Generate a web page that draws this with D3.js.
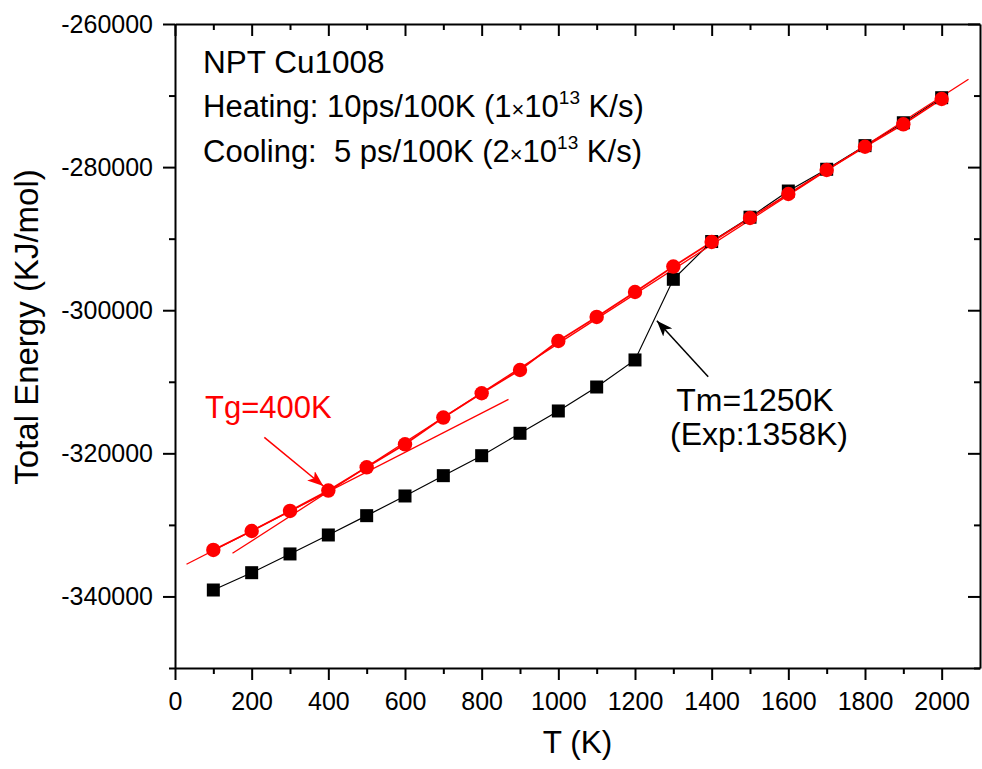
<!DOCTYPE html>
<html>
<head>
<meta charset="utf-8">
<script src="https://cdn.jsdelivr.net/npm/d3@7"></script>
<style>
  html, body { margin: 0; padding: 0; background: #fff; }
  svg { display: block; font-family: "Liberation Sans", Arial, sans-serif; }
</style>
</head>
<body>
<svg id="chart" width="982" height="769"></svg>
<script>
// ---- data ----
const temps = [100,200,300,400,500,600,700,800,900,1000,1100,1200,1300,1400,1500,1600,1700,1800,1900,2000];
const heatingE = [-339100,-336680,-334060,-331410,-328710,-325960,-323120,-320330,-317200,-314080,-310730,-306950,-295680,-290400,-287000,-283340,-280300,-277000,-273800,-270300];
const coolingE = [-333500,-330850,-328050,-325200,-321950,-318740,-315000,-311600,-308350,-304300,-300940,-297450,-293900,-290460,-287110,-283760,-280400,-277150,-274020,-270480];
// linear fits (glass / liquid) endpoints [T, E]
const glassFit = [[30,-335500],[870,-312450]];
const liquidFit = [[150,-333970],[2070,-267730]];
const xMajorTicks = [0,200,400,600,800,1000,1200,1400,1600,1800,2000];
const xMinorTicks = [100,300,500,700,900,1100,1300,1500,1700,1900];
const yMajorTicks = [-340000,-320000,-300000,-280000,-260000];
const yMinorTicks = [-350000,-330000,-310000,-290000,-270000];
// annotation arrows [from, to] in data units
const tgArrow = [[233,-317760],[387,-324560]];
const tmArrow = [[1391,-309290],[1257,-301460]];

// ---- layout ----
const svg = d3.select("#chart");
const L = 175, R = 980, T = 24, B = 668;
const x = d3.scaleLinear().domain([0,2100]).range([L,R]);
const y = d3.scaleLinear().domain([-350000,-260000]).range([B,T]);
const fmt = d => String(d);

const defs = svg.append("defs");
function marker(id, color){
  defs.append("marker").attr("id",id).attr("viewBox","0 0 16 12")
    .attr("refX",16).attr("refY",6).attr("markerWidth",16).attr("markerHeight",12)
    .attr("markerUnits","userSpaceOnUse").attr("orient","auto")
    .append("path").attr("d","M0,0 L16,6 L0,12 L4,6 Z").attr("fill",color);
}
marker("arrRed","#ff0000");
marker("arrBlack","#000");

// axes
const axisStyle = g => {
  g.selectAll("path").attr("stroke","#000").attr("stroke-width",2);
  g.selectAll("line").attr("stroke","#000").attr("stroke-width",2);
  g.selectAll("text").attr("font-size",25).attr("fill","#000")
   .attr("font-family","'Liberation Sans', Arial, sans-serif");
};
// bottom
svg.append("g").attr("transform",`translate(0,${B})`)
  .call(d3.axisBottom(x).tickValues(xMinorTicks).tickSize(6).tickFormat(""))
  .call(g=>g.select(".domain").remove()).call(axisStyle);
svg.append("g").attr("transform",`translate(0,${B})`)
  .call(d3.axisBottom(x).tickValues(xMajorTicks).tickSize(12).tickSizeOuter(0).tickPadding(12).tickFormat(fmt))
  .call(axisStyle);
// top
svg.append("g").attr("transform",`translate(0,${T})`)
  .call(d3.axisBottom(x).tickValues(xMinorTicks).tickSize(6).tickFormat(""))
  .call(g=>g.select(".domain").remove()).call(axisStyle);
svg.append("g").attr("transform",`translate(0,${T})`)
  .call(d3.axisBottom(x).tickValues(xMajorTicks).tickSize(12).tickSizeOuter(0).tickFormat(""))
  .call(axisStyle);
// left
svg.append("g").attr("transform",`translate(${L},0)`)
  .call(d3.axisLeft(y).tickValues(yMinorTicks).tickSize(6).tickFormat(""))
  .call(g=>g.select(".domain").remove()).call(axisStyle);
svg.append("g").attr("transform",`translate(${L},0)`)
  .call(d3.axisLeft(y).tickValues(yMajorTicks).tickSize(12).tickSizeOuter(0).tickPadding(10).tickFormat(fmt))
  .call(axisStyle);
// right
svg.append("g").attr("transform",`translate(${R},0)`)
  .call(d3.axisLeft(y).tickValues(yMinorTicks).tickSize(6).tickFormat(""))
  .call(g=>g.select(".domain").remove()).call(axisStyle);
svg.append("g").attr("transform",`translate(${R},0)`)
  .call(d3.axisLeft(y).tickValues(yMajorTicks).tickSize(12).tickSizeOuter(0).tickFormat(""))
  .call(axisStyle);

// axis titles
svg.append("text").attr("x",(L+R)/2).attr("y",753).attr("text-anchor","middle")
  .attr("font-size",31.5).text("T (K)");
svg.append("text").attr("transform",`translate(38,327) rotate(-90)`)
  .attr("text-anchor","middle").attr("font-size",33).text("Total Energy (KJ/mol)");

// data lines
const line = d3.line().x(d=>x(d[0])).y(d=>y(d[1]));
const heat = temps.map((t,i)=>[t,heatingE[i]]);
const cool = temps.map((t,i)=>[t,coolingE[i]]);

svg.append("path").datum(heat).attr("d",line).attr("fill","none").attr("stroke","#000").attr("stroke-width",1.2);
svg.append("path").datum(glassFit).attr("d",line).attr("fill","none").attr("stroke","#ff0000").attr("stroke-width",1.3);
svg.append("path").datum(liquidFit).attr("d",line).attr("fill","none").attr("stroke","#ff0000").attr("stroke-width",1.3);
svg.append("path").datum(cool).attr("d",line).attr("fill","none").attr("stroke","#ff0000").attr("stroke-width",1.8);

// markers
svg.append("g").selectAll("rect").data(heat).join("rect")
  .attr("x",d=>x(d[0])-6.5).attr("y",d=>y(d[1])-6.5).attr("width",13).attr("height",13).attr("fill","#000");
svg.append("g").selectAll("circle").data(cool).join("circle")
  .attr("cx",d=>x(d[0])).attr("cy",d=>y(d[1])).attr("r",7.2).attr("fill","#ff0000");

// arrows
svg.append("line").attr("x1",x(tgArrow[0][0])).attr("y1",y(tgArrow[0][1]))
  .attr("x2",x(tgArrow[1][0])).attr("y2",y(tgArrow[1][1]))
  .attr("stroke","#ff0000").attr("stroke-width",1.5).attr("marker-end","url(#arrRed)");
svg.append("line").attr("x1",x(tmArrow[0][0])).attr("y1",y(tmArrow[0][1]))
  .attr("x2",x(tmArrow[1][0])).attr("y2",y(tmArrow[1][1]))
  .attr("stroke","#000").attr("stroke-width",1.5).attr("marker-end","url(#arrBlack)");

// annotations
svg.append("text").attr("x",205).attr("y",418).attr("font-size",31).attr("fill","#ff0000").text("Tg=400K");
svg.append("text").attr("x",755).attr("y",411).attr("text-anchor","middle").attr("font-size",32).text("Tm=1250K");
svg.append("text").attr("x",759).attr("y",445).attr("text-anchor","middle").attr("font-size",32).text("(Exp:1358K)");

const info = svg.append("g").attr("font-size",31.5);
info.append("text").attr("x",203).attr("y",73).text("NPT Cu1008");
function rateLine(yPos, pre, coef){
  const t = info.append("text").attr("x",203).attr("y",yPos).attr("font-size",31)
    .attr("xml:space","preserve").style("white-space","pre");
  t.append("tspan").text(pre + coef);
  t.append("tspan").attr("font-size",22).text("\u00D7");
  t.append("tspan").text("10");
  t.append("tspan").attr("font-size",19).attr("dy",-13).text("13");
  t.append("tspan").attr("dy",13).text(" K/s)");
}
rateLine(117, "Heating: 10ps/100K (", "1");
rateLine(162, "Cooling:  5 ps/100K (", "2");
</script>
</body>
</html>
